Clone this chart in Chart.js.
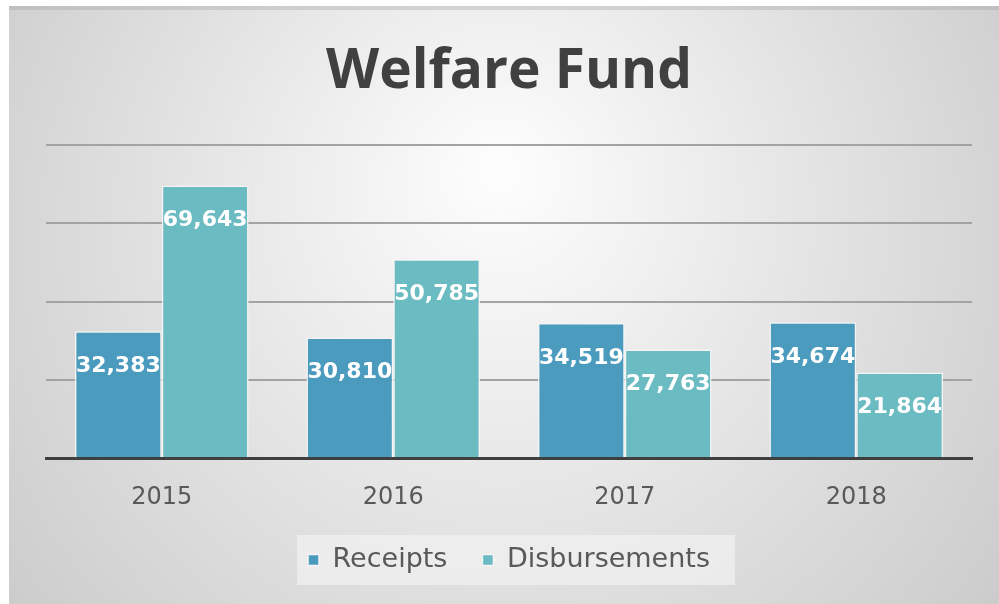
<!DOCTYPE html>
<html>
<head>
<meta charset="utf-8">
<script src="https://cdn.jsdelivr.net/npm/chart.js@4/dist/chart.umd.min.js"></script>
<style>
  html, body { margin: 0; padding: 0; background: #ffffff; }
  #wrap { width: 999px; height: 604px; }
</style>
</head>
<body>
<div id="wrap"><canvas id="myChart" width="999" height="604"></canvas></div>
<script>
// Chart values
const years = ['2015', '2016', '2017', '2018'];
const receipts = [32383, 30810, 34519, 34674];
const disbursements = [69643, 50785, 27763, 21864];
const yTicks = [0, 20000, 40000, 60000, 80000];

// Soft grey backdrop, whitest near the top middle, with a thin white margin top/left
const backdrop = {
  id: 'backdrop',
  beforeDraw: (chart) => {
    const ctx = chart.ctx;
    ctx.save();
    ctx.fillStyle = '#ffffff';
    ctx.fillRect(0, 0, chart.width, chart.height);
    const g = ctx.createRadialGradient(500, 170, 20, 500, 260, 640);
    g.addColorStop(0, '#fcfcfc');
    g.addColorStop(1, '#c9c9c9');
    ctx.fillStyle = g;
    ctx.fillRect(9, 6, chart.width - 9, chart.height - 6);
    ctx.fillStyle = 'rgba(160,160,160,0.35)';
    ctx.fillRect(9, 6, chart.width - 9, 4);
    ctx.restore();
  }
};

// Light panel behind the legend items
const legendPanel = {
  id: 'legendPanel',
  beforeDraw: (chart) => {
    const boxes = chart.legend && chart.legend.legendHitBoxes;
    if (!boxes || !boxes.length) return;
    const left = Math.min(...boxes.map(b => b.left)) - 11;
    const right = Math.max(...boxes.map(b => b.left + b.width)) + 25;
    const mid = boxes[0].top + boxes[0].height / 2;
    const ctx = chart.ctx;
    ctx.save();
    ctx.fillStyle = 'rgba(240,240,240,0.75)';
    ctx.fillRect(left, mid - 25, right - left, 50);
    ctx.restore();
  }
};

// White value labels near the top of each bar
const valueLabels = {
  id: 'valueLabels',
  afterDatasetsDraw: (chart) => {
    const ctx = chart.ctx;
    ctx.save();
    ctx.font = 'bold 22px "DejaVu Sans"';
    ctx.fillStyle = '#ffffff';
    ctx.textAlign = 'center';
    ctx.textBaseline = 'middle';
    chart.data.datasets.forEach((ds, i) => {
      chart.getDatasetMeta(i).data.forEach((bar, j) => {
        ctx.fillText(ds.data[j].toLocaleString('en-US'), bar.x, bar.y + 35);
      });
    });
    ctx.restore();
  }
};

const data = {
  labels: years,
  datasets: [{
    label: 'Receipts',
    data: receipts,
    backgroundColor: '#4a9bbe',
    borderColor: '#f4f4f4',
    borderWidth: 1.5,
    categoryPercentage: 0.75,
    barPercentage: 1.0
  }, {
    label: 'Disbursements',
    data: disbursements,
    backgroundColor: '#6bbbc2',
    borderColor: '#f4f4f4',
    borderWidth: 1.5,
    categoryPercentage: 0.75,
    barPercentage: 1.0
  }]
};

const config = {
  type: 'bar',
  data: data,
  plugins: [backdrop, legendPanel, valueLabels],
  options: {
    responsive: false,
    animation: false,
    layout: { padding: { left: 46, right: 27, top: 0, bottom: 20.5 } },
    plugins: {
      title: {
        display: true,
        text: 'Welfare Fund',
        color: '#404040',
        font: { family: '"Open Sans"', size: 55, weight: 'bold' },
        padding: { top: 39, bottom: 40 }
      },
      legend: {
        position: 'bottom',
        labels: {
          color: '#595959',
          font: { family: '"DejaVu Sans"', size: 27 },
          boxWidth: 11,
          boxHeight: 11,
          padding: 35
        }
      },
      tooltip: { enabled: false }
    },
    scales: {
      x: {
        grid: { display: false, drawTicks: false },
        border: { display: true, color: '#3f3f3f', width: 3 },
        ticks: {
          color: '#595959',
          font: { family: '"DejaVu Sans"', size: 24 },
          padding: 25
        },
        afterFit: (scale) => { scale.height = 53.5; }
      },
      y: {
        min: yTicks[0],
        max: yTicks[yTicks.length - 1],
        afterBuildTicks: (axis) => { axis.ticks = yTicks.map(v => ({ value: v })); },
        grid: { color: '#a3a3a3', lineWidth: 2, drawTicks: false },
        border: { display: false },
        ticks: { display: false }
      }
    }
  }
};

let chart = new Chart(document.getElementById('myChart'), config);
</script>
</body>
</html>
